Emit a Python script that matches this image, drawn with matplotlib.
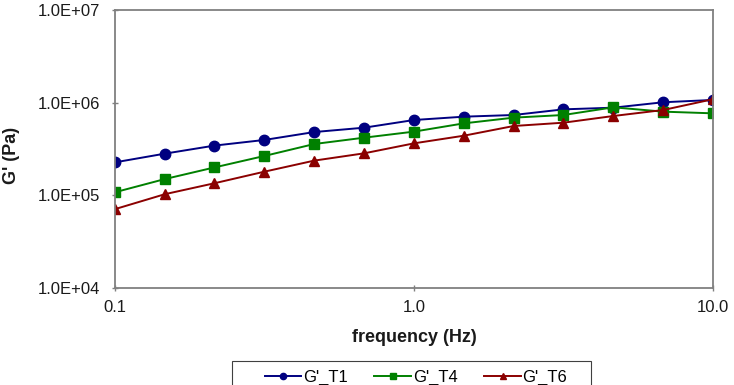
import matplotlib
matplotlib.use("Agg")
import matplotlib.pyplot as plt
from matplotlib.patches import Rectangle
from matplotlib.ticker import FixedLocator, FixedFormatter, NullLocator

plt.rcParams['font.family'] = ['Liberation Sans', 'DejaVu Sans']

freq = [0.1, 0.147, 0.215, 0.316, 0.464, 0.681, 1.0, 1.468, 2.154, 3.162, 4.642, 6.813, 10.0]
g_t1 = [2.27e5, 2.82e5, 3.44e5, 3.96e5, 4.82e5, 5.37e5, 6.50e5, 7.06e5, 7.36e5, 8.47e5, 8.83e5, 1.01e6, 1.07e6]
g_t4 = [1.08e5, 1.50e5, 2.00e5, 2.66e5, 3.58e5, 4.19e5, 4.87e5, 5.98e5, 6.89e5, 7.36e5, 8.91e5, 8.00e5, 7.67e5]
g_t6 = [7.1e4, 1.03e5, 1.35e5, 1.80e5, 2.37e5, 2.84e5, 3.64e5, 4.40e5, 5.60e5, 6.08e5, 7.18e5, 8.33e5, 1.09e6]
labels = ["G'_T1", "G'_T4", "G'_T6"]
xticks = [0.1, 1.0, 10.0]
xticklabels = ["0.1", "1.0", "10.0"]
yticks = [1e4, 1e5, 1e6, 1e7]
yticklabels = ["1.0E+04", "1.0E+05", "1.0E+06", "1.0E+07"]

W, H = 734, 385
fig = plt.figure(figsize=(W/100, H/100), dpi=100)
ax = fig.add_axes([115/W, 1 - 288/H, (713-115)/W, (288-10)/H])

ax.plot(freq, g_t1, color='#000080', marker='o', markersize=7.5, lw=1.4, label=labels[0])
ax.plot(freq, g_t4, color='#008000', marker='s', markersize=7, lw=1.4, label=labels[1])
ax.plot(freq, g_t6, color='#8B0000', marker='^', markersize=7.5, lw=1.4, label=labels[2])

ax.set_xscale('log')
ax.set_yscale('log')
ax.set_xlim(0.1, 10)
ax.set_ylim(1e4, 1e7)
ax.xaxis.set_major_locator(FixedLocator(xticks))
ax.xaxis.set_major_formatter(FixedFormatter(xticklabels))
ax.xaxis.set_minor_locator(NullLocator())
ax.yaxis.set_major_locator(FixedLocator(yticks))
ax.yaxis.set_major_formatter(FixedFormatter(yticklabels))
ax.yaxis.set_minor_locator(NullLocator())

for s in ax.spines.values():
    s.set_color('#808080')
    s.set_linewidth(1.3)
ax.tick_params(axis='both', colors='#808080', labelcolor='#1a1a1a', labelsize=12,
               length=5, width=1, direction='inout')
ax.tick_params(axis='x', pad=6)
ax.tick_params(axis='y', pad=8)

ax.set_xlabel('frequency (Hz)', fontsize=13, fontweight='bold', labelpad=10, color='#1a1a1a')
ax.set_ylabel("G' (Pa)", fontsize=13, fontweight='bold', color='#1a1a1a', va='center')
ax.yaxis.set_label_coords((11 - 115) / (713 - 115), (288 - 155) / (288 - 10))

# legend frame (cut off by the bottom edge, as in the reference)
fig.patches.append(Rectangle((232/W, -0.05), (591-232)/W, 0.05 + 1 - 361/H,
                             transform=fig.transFigure, fill=False,
                             edgecolor='#404040', linewidth=0.8))
leg = fig.legend(loc='center', bbox_to_anchor=(416/W, 1 - 377/H), ncol=3, fontsize=12,
                 frameon=False, markerscale=0.6, borderaxespad=0, borderpad=0,
                 handlelength=2.2, handletextpad=0.1, columnspacing=1.6)

fig.savefig('out.png', dpi=100)
